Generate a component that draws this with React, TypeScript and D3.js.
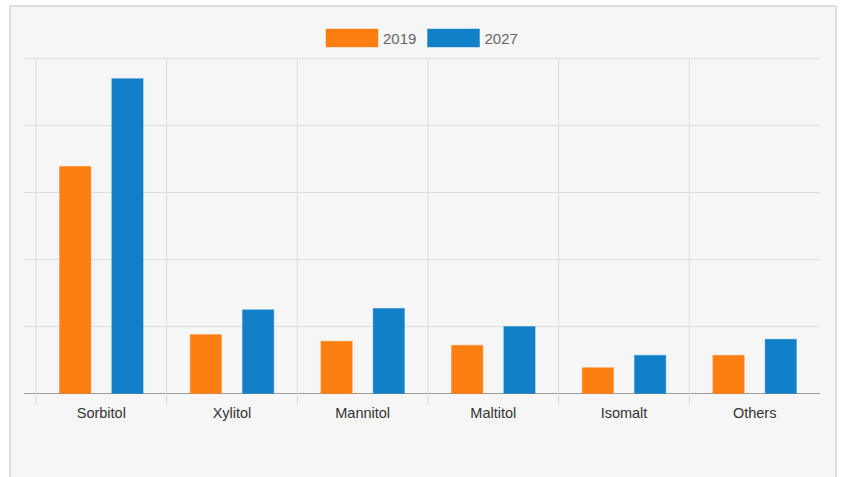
import React from "react";
import * as d3 from "d3";

const categories = ["Sorbitol", "Xylitol", "Mannitol", "Maltitol", "Isomalt", "Others"];
const seriesNames = ["2019", "2027"];
const values2019 = [3.39, 0.88, 0.78, 0.72, 0.385, 0.57];
const values2027 = [4.7, 1.25, 1.27, 1.0, 0.57, 0.81];
const yTicks = [0, 1, 2, 3, 4, 5];
const colors = ["#fd7f12", "#1180c8"];

const W = 842;
const H = 477;
const left = 36;
const right = 820;
const top = 58.5;
const bottom = 393.5;

export default function App() {
  const x0 = d3.scaleBand<string>().domain(categories).range([left, right]).padding(0);
  const bw = x0.bandwidth();
  const x1 = d3
    .scaleBand<string>()
    .domain(seriesNames)
    .range([bw * 0.1, bw * 0.9])
    .paddingInner(0.4)
    .paddingOuter(0.2);
  const y = d3.scaleLinear().domain([0, 5]).range([bottom, top]);
  const seriesValues = [values2019, values2027];

  const legendX = [326, 427.5];

  return (
    <svg
      width={W}
      height={H}
      style={{ position: "absolute", left: 0, top: 0, fontFamily: "Arial, 'Liberation Sans', sans-serif" }}
    >
      <rect x={0} y={0} width={W} height={H} fill="#ffffff" />
      <rect x={10} y={6} width={826} height={H + 10} fill="#f6f6f6" stroke="#dddddd" strokeWidth={2} />

      {/* horizontal gridlines */}
      {yTicks.map((t) => (
        <line
          key={"h" + t}
          x1={24}
          x2={right}
          y1={y(t)}
          y2={y(t)}
          stroke={t === 0 ? "#9a9a9a" : "#dedede"}
          strokeWidth={1}
        />
      ))}
      {/* vertical gridlines */}
      {categories.map((c) => (
        <line
          key={"v" + c}
          x1={x0(c)!}
          x2={x0(c)!}
          y1={top}
          y2={bottom + 12}
          stroke={"#dcdcdc"}
          strokeWidth={1}
        />
      ))}

      {/* bars */}
      {categories.map((c, i) =>
        seriesNames.map((s, j) => {
          const v = seriesValues[j][i];
          const bx = x0(c)! + x1(s)!;
          return (
            <rect
              key={c + s}
              x={bx}
              y={y(v)}
              width={x1.bandwidth()}
              height={bottom - y(v)}
              fill={colors[j]}
              stroke={colors[j]}
              strokeOpacity={0.35}
              strokeWidth={1}
            />
          );
        })
      )}

      {/* category labels */}
      {categories.map((c) => (
        <text
          key={"l" + c}
          x={x0(c)! + bw / 2}
          y={418}
          textAnchor="middle"
          fontSize={14.5}
          fill="#333333"
        >
          {c}
        </text>
      ))}

      {/* legend */}
      {seriesNames.map((s, j) => (
        <g key={"lg" + s}>
          <rect
            x={legendX[j]}
            y={29}
            width={52}
            height={18}
            fill={colors[j]}
            stroke={colors[j]}
            strokeOpacity={0.4}
          />
          <text x={legendX[j] + 57} y={43.5} fontSize={15} fill="#666666">
            {s}
          </text>
        </g>
      ))}
    </svg>
  );
}
